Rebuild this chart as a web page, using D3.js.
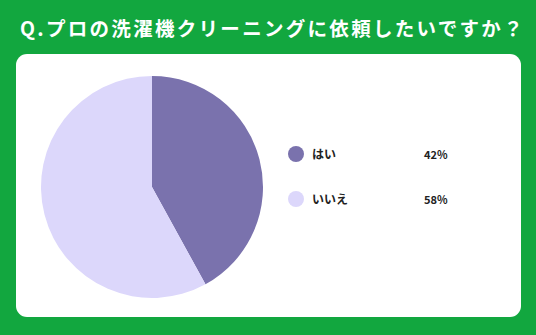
<!DOCTYPE html>
<html>
  <head>
    <meta charset="utf-8" />
    <script src="https://d3js.org/d3.v7.min.js"></script>
    <style>
      body {
        margin: 0;
        background: #12a73f;
      }
      text {
        font-family: "Noto Sans CJK JP", "Noto Sans", sans-serif;
      }
    </style>
  </head>
  <body>
    <div id="chartContainer"></div>
    <script type="text/javascript">
      const title = "Q.プロの洗濯機クリーニングに依頼したいですか？";
      const labels = ["はい", "いいえ"];
      const values = [42, 58];
      const colors = ["#7a72ad", "#dcd7fb"];

      const width = 536,
        height = 335;

      const svg = d3
        .select("#chartContainer")
        .append("svg")
        .attr("width", width)
        .attr("height", height);

      svg
        .append("rect")
        .attr("width", width)
        .attr("height", height)
        .attr("fill", "#12a73f");

      svg
        .append("text")
        .attr("x", 20)
        .attr("y", 36)
        .attr("fill", "#ffffff")
        .attr("font-size", 19.5)
        .attr("font-weight", "bold")
        .attr("letter-spacing", 2.3)
        .text(title);

      // white card
      svg
        .append("rect")
        .attr("x", 16)
        .attr("y", 54)
        .attr("width", 505)
        .attr("height", 263)
        .attr("rx", 11)
        .attr("fill", "#ffffff");

      const data = labels.map((d, i) => ({ label: d, value: values[i] }));
      const color = d3.scaleOrdinal().domain(labels).range(colors);

      const radius = 111;
      const g = svg.append("g").attr("transform", "translate(152, 187)");

      const pie = d3
        .pie()
        .value((d) => d.value)
        .sort(null);
      const arc = d3.arc().innerRadius(0).outerRadius(radius);

      g.selectAll("path")
        .data(pie(data))
        .enter()
        .append("path")
        .attr("d", arc)
        .attr("fill", (d) => color(d.data.label));

      const legendY = d3.scalePoint().domain(labels).range([154, 199]);

      const legend = svg
        .selectAll("g.legend")
        .data(data)
        .enter()
        .append("g")
        .attr("class", "legend")
        .attr("transform", (d) => `translate(0, ${legendY(d.label)})`);

      legend
        .append("circle")
        .attr("cx", 296)
        .attr("cy", 0)
        .attr("r", 8)
        .attr("fill", (d) => color(d.label));

      legend
        .append("text")
        .attr("x", 312)
        .attr("y", 4.5)
        .attr("font-size", 12)
        .attr("font-weight", "bold")
        .attr("fill", "#222")
        .text((d) => d.label);

      legend
        .append("text")
        .attr("x", 424)
        .attr("y", 4.5)
        .attr("font-size", 11)
        .attr("font-weight", "bold")
        .attr("fill", "#222")
        .text((d) => d.value + "%");
    </script>
  </body>
</html>
